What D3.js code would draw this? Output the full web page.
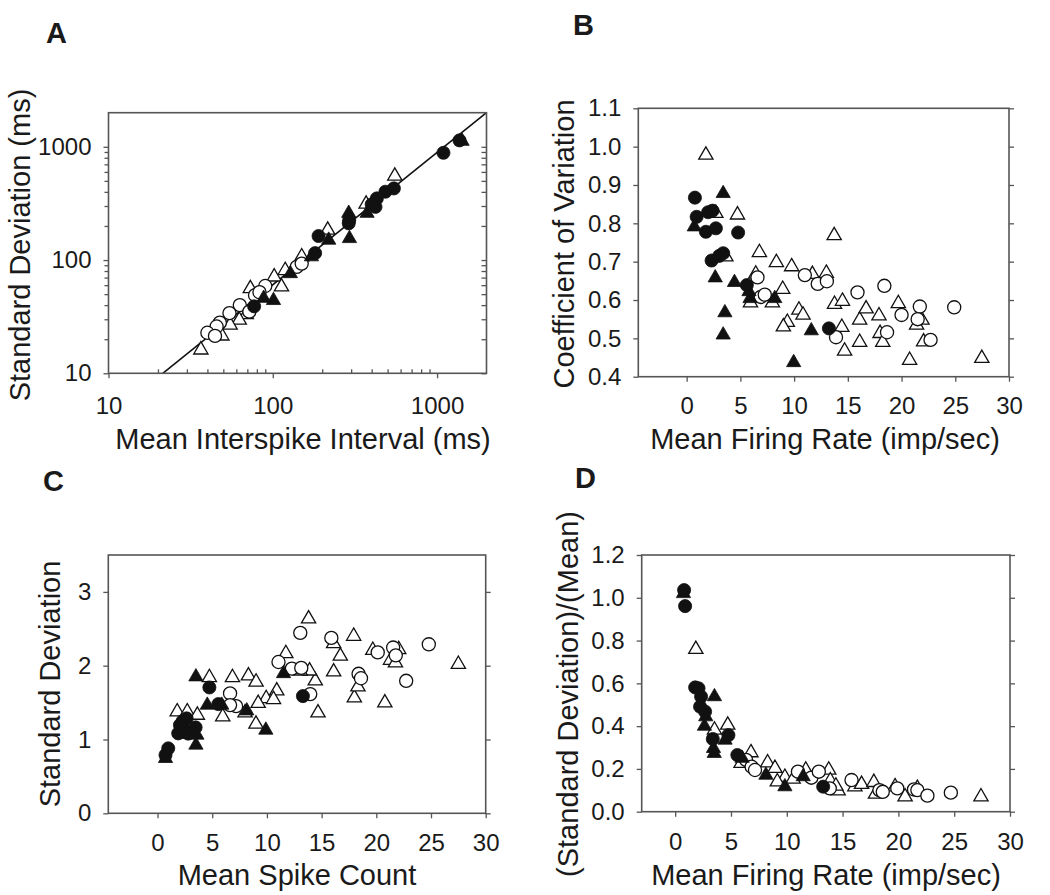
<!DOCTYPE html>
<html>
<head>
<meta charset="utf-8">
<script src="https://cdn.jsdelivr.net/npm/d3@7"></script>
<style>
  body { margin: 0; background: #fff; }
  svg { display: block; }
  text { font-family: "Liberation Sans", Arial, sans-serif; fill: #1a1a1a; }
</style>
</head>
<body>
<script>
// ---- data ----
// A: mean interspike interval (ms) vs standard deviation (ms)
const aFilledCircles = [[1370,1140],[1094,885],[546,429],[485,401],[430,350],[422,295],[400,310],[290,211],[292,225],[190,163],[181,115],[77,39]];
const aFilledTriangles = [[1420,1120],[290,259],[293,155],[219,150],[375,259],[128,76],[101,44],[88,46],[172,107]];
const aOpenTriangles = [[553,551],[370,312],[216,184],[150,107],[119,81],[102,71],[113,58],[73,56],[69,33],[62.5,29.5],[55,26.7],[49,21.4],[36.5,16.1]];
const aOpenCircles = [[140,87],[150,93],[90,59],[78,49],[83,52],[63,40],[54.5,34],[47.6,28],[45.5,25.9],[40,22.8],[44.5,21.4],[72,35]];
const aFit = [[21.4,10],[2000,2000]];
const aMajorTicks = [10,100,1000];
const aMinorTicks = [20,30,40,50,60,70,80,90,200,300,400,500,600,700,800,900];

// B: mean firing rate (imp/sec) vs coefficient of variation
const bFilledCircles = [[0.77,0.867],[0.93,0.817],[1.79,0.778],[2.0,0.829],[2.41,0.833],[2.72,0.787],[2.32,0.703],[3.03,0.715],[3.4,0.722],[4.79,0.776],[5.6,0.639],[13.24,0.526]];
const bFilledTriangles = [[3.4,0.878],[0.71,0.791],[2.66,0.658],[4.45,0.646],[5.9,0.604],[8.2,0.604],[3.56,0.567],[3.4,0.509],[11.6,0.52],[9.96,0.437],[5.8,0.622]];
const bOpenTriangles = [[1.79,0.978],[2.72,0.826],[4.73,0.822],[3.65,0.713],[13.73,0.768],[6.77,0.724],[8.35,0.698],[9.77,0.687],[6.43,0.668],[11.7,0.667],[13.0,0.67],[8.94,0.628],[5.94,0.593],[7.98,0.593],[13.76,0.589],[14.5,0.597],[10.45,0.574],[10.83,0.561],[9.37,0.542],[9.0,0.53],[14.44,0.529],[14.7,0.467],[16.1,0.548],[16.7,0.577],[16.1,0.49],[17.9,0.559],[18.0,0.513],[18.25,0.49],[19.7,0.591],[21.4,0.535],[21.9,0.548],[22.05,0.491],[20.75,0.443],[27.47,0.448]];
const bOpenCircles = [[6.59,0.659],[6.9,0.608],[7.27,0.614],[11.0,0.665],[12.2,0.642],[13.05,0.649],[15.9,0.62],[18.4,0.637],[13.9,0.503],[18.65,0.516],[20.0,0.561],[21.7,0.583],[21.5,0.55],[22.7,0.496],[24.9,0.581]];
const bYTicks = [0.4,0.5,0.6,0.7,0.8,0.9,1.0,1.1];

// C: mean spike count vs standard deviation
const cFilledCircles = [[4.74,1.705],[5.56,1.48],[13.29,1.588],[0.98,0.88],[0.73,0.79],[2.05,1.195],[2.66,1.286],[2.5,1.128],[1.89,1.083],[3.48,1.164],[2.3,1.25],[2.8,1.08]];
const cFilledTriangles = [[3.51,1.85],[4.55,1.466],[5.87,1.466],[8.16,1.389],[9.9,1.128],[11.52,1.894],[3.51,0.925],[0.73,0.744],[3.6,1.06],[2.4,1.07]];
const cOpenTriangles = [[13.81,2.635],[17.93,2.40],[11.73,2.165],[16.1,2.30],[16.71,2.13],[16.1,1.917],[19.68,2.21],[21.3,2.075],[21.75,2.04],[22.05,2.22],[27.5,2.02],[20.78,1.497],[17.99,1.565],[18.32,1.714],[14.67,1.362],[14.42,1.795],[13.9,1.93],[13.05,1.93],[4.74,1.84],[6.85,1.84],[8.31,1.863],[9.01,1.78],[10.9,1.66],[9.93,1.556],[10.6,1.543],[9.2,1.49],[5.96,1.308],[8.0,1.362],[9.0,1.209],[1.8,1.376],[2.72,1.376],[3.64,1.33]];
const cOpenCircles = [[13.05,2.445],[15.89,2.377],[21.54,2.246],[21.78,2.14],[20.13,2.18],[24.8,2.29],[11.06,2.05],[12.28,1.96],[13.14,1.97],[18.38,1.89],[18.6,1.83],[22.73,1.795],[13.96,1.615],[6.63,1.624],[7.18,1.452],[6.63,1.466]];
const cYTicks = [0,1,2,3];

// D: mean firing rate vs (SD)/(mean)
const dFilledCircles = [[0.8,1.036],[0.89,0.961],[1.79,0.581],[2.09,0.577],[2.32,0.538],[2.23,0.491],[2.68,0.468],[3.37,0.34],[4.77,0.358],[5.57,0.265],[13.26,0.117]];
const dFilledTriangles = [[0.74,1.02],[3.52,0.538],[2.74,0.444],[2.62,0.40],[3.43,0.296],[3.5,0.273],[4.47,0.335],[8.13,0.171],[9.83,0.117],[11.47,0.164],[6.0,0.25]];
const dOpenTriangles = [[1.85,0.759],[3.52,0.382],[4.71,0.405],[6.79,0.276],[5.9,0.226],[8.28,0.229],[8.94,0.203],[9.83,0.161],[9.15,0.14],[10.57,0.153],[11.7,0.195],[13.76,0.195],[13.9,0.145],[14.6,0.098],[14.4,0.12],[16.1,0.117],[16.7,0.128],[17.8,0.137],[17.95,0.083],[20.6,0.07],[27.4,0.07],[19.7,0.117],[21.7,0.109]];
const dOpenCircles = [[6.35,0.242],[6.85,0.21],[7.15,0.195],[11.0,0.187],[12.2,0.159],[12.87,0.187],[13.85,0.109],[15.8,0.148],[18.3,0.101],[19.9,0.109],[21.4,0.104],[21.7,0.101],[22.6,0.075],[24.7,0.089],[18.6,0.093]];
const dYTicks = [0,0.2,0.4,0.6,0.8,1.0,1.2];

const rateTicks = [0,5,10,15,20,25,30];

// ---- drawing ----
const svg = d3.select("body").append("svg")
	.attr("width", 1050)
	.attr("height", 895);

const frameColor = "#555";
const ink = "#111";

const circlePath = d3.symbol().type(d3.symbolCircle).size(135)();
const trianglePath = d3.symbol().type(d3.symbolTriangle).size(88)();

function styleAxis(g) {
	g.select(".domain").remove();
	g.selectAll("line").attr("stroke", frameColor).attr("stroke-width", 1.3);
	g.selectAll("text")
		.attr("font-family", "Liberation Sans, Arial, sans-serif")
		.attr("font-size", 24)
		.attr("fill", "#1a1a1a");
}

function drawPanel(p) {
	const g = svg.append("g");
	const x = p.x, y = p.y;
	const [left, right] = x.range();
	const [bottom, top] = y.range();

	// markers: open first, filled on top
	const series = [
		{ data: p.openTriangles, path: trianglePath, filled: false },
		{ data: p.openCircles, path: circlePath, filled: false },
		{ data: p.filledTriangles, path: trianglePath, filled: true },
		{ data: p.filledCircles, path: circlePath, filled: true }
	];

	if (p.fit) {
		const line = d3.line().x((d) => x(d[0])).y((d) => y(d[1]));
		g.append("path")
			.datum(p.fit)
			.attr("d", line)
			.attr("fill", "none")
			.attr("stroke", ink)
			.attr("stroke-width", 1.6);
	}

	series.forEach((s) => {
		g.append("g")
			.selectAll("path")
			.data(s.data)
			.join("path")
				.attr("d", s.path)
				.attr("transform", (d) => `translate(${x(d[0])},${y(d[1])})`)
				.attr("fill", s.filled ? ink : "#fff")
				.attr("stroke", ink)
				.attr("stroke-width", s.filled ? 0.8 : 1.3);
	});

	// frame
	g.append("rect")
		.attr("x", left)
		.attr("y", top)
		.attr("width", right - left)
		.attr("height", bottom - top)
		.attr("fill", "none")
		.attr("stroke", frameColor)
		.attr("stroke-width", 1.6);

	// axes
	g.append("g")
		.attr("transform", `translate(0,${bottom})`)
		.call(d3.axisBottom(x).tickValues(p.xTicks).tickFormat(p.xFormat).tickSize(5).tickPadding(p.xPad))
		.call(styleAxis);

	g.append("g")
		.attr("transform", `translate(${left},0)`)
		.call(d3.axisLeft(y).tickValues(p.yTicks).tickFormat(p.yFormat).tickSize(5).tickPadding(12))
		.call(styleAxis);

	g.append("g")
		.attr("transform", `translate(${right},0)`)
		.call(d3.axisRight(y).tickValues(p.yTicks.concat(p.yMinor || [])).tickFormat("").tickSize(p.rightTick))
		.call(styleAxis);

	if (p.xMinor) {
		g.append("g")
			.attr("transform", `translate(0,${bottom})`)
			.call(d3.axisBottom(x).tickValues(p.xMinor).tickFormat("").tickSize(-4))
			.call(styleAxis);
	}
	if (p.yMinor) {
		g.append("g")
			.attr("transform", `translate(${left},0)`)
			.call(d3.axisLeft(y).tickValues(p.yMinor).tickFormat("").tickSize(4))
			.call(styleAxis);
	}

	// titles
	g.append("text")
		.attr("x", p.xTitlePos[0])
		.attr("y", p.xTitlePos[1])
		.attr("text-anchor", "middle")
		.attr("font-size", 29)
		.text(p.xTitle);

	g.append("text")
		.attr("transform", `translate(${p.yTitlePos[0]},${p.yTitlePos[1]}) rotate(-90)`)
		.attr("text-anchor", "middle")
		.attr("font-size", 29)
		.text(p.yTitle);

	g.append("text")
		.attr("x", p.letterPos[0])
		.attr("y", p.letterPos[1])
		.attr("font-size", 29)
		.attr("font-weight", "bold")
		.attr("fill", "#000")
		.text(p.letter);
}

// A
drawPanel({
	letter: "A", letterPos: [46, 43],
	x: d3.scaleLog().domain([10, 2000]).range([108.5, 486.5]),
	y: d3.scaleLog().domain([10, 2000]).range([373.3, 112.7]),
	xTicks: aMajorTicks, xMinor: aMinorTicks, xFormat: d3.format("d"), xPad: 19,
	yTicks: aMajorTicks, yMinor: aMinorTicks, yFormat: d3.format("d"),
	rightTick: -5,
	filledCircles: aFilledCircles, filledTriangles: aFilledTriangles,
	openTriangles: aOpenTriangles, openCircles: aOpenCircles,
	fit: aFit,
	xTitle: "Mean Interspike Interval (ms)", xTitlePos: [303, 449],
	yTitle: "Standard Deviation (ms)", yTitlePos: [30, 245]
});

// B
drawPanel({
	letter: "B", letterPos: [573, 35],
	x: d3.scaleLinear().domain([-4.5, 30]).range([638.3, 1009]),
	y: d3.scaleLinear().domain([0.4, 1.1]).range([376.7, 108.3]),
	xTicks: rateTicks, xFormat: d3.format("d"), xPad: 15,
	yTicks: bYTicks, yFormat: d3.format(".1f"),
	rightTick: 5,
	filledCircles: bFilledCircles, filledTriangles: bFilledTriangles,
	openTriangles: bOpenTriangles, openCircles: bOpenCircles,
	xTitle: "Mean Firing Rate (imp/sec)", xTitlePos: [825, 449],
	yTitle: "Coefficient of Variation", yTitlePos: [574, 244]
});

// C
drawPanel({
	letter: "C", letterPos: [43, 491],
	x: d3.scaleLinear().domain([-4.5, 30]).range([108.3, 485.7]),
	y: d3.scaleLinear().domain([0, 3.5]).range([813.3, 555]),
	xTicks: rateTicks, xFormat: d3.format("d"), xPad: 16,
	yTicks: cYTicks, yFormat: d3.format("d"),
	rightTick: 5,
	filledCircles: cFilledCircles, filledTriangles: cFilledTriangles,
	openTriangles: cOpenTriangles, openCircles: cOpenCircles,
	xTitle: "Mean Spike Count", xTitlePos: [297, 885],
	yTitle: "Standard Deviation", yTitlePos: [60, 684]
});

// D
drawPanel({
	letter: "D", letterPos: [575, 488],
	x: d3.scaleLinear().domain([-3, 30]).range([641.7, 1010]),
	y: d3.scaleLinear().domain([0, 1.2]).range([811.7, 555]),
	xTicks: rateTicks, xFormat: d3.format("d"), xPad: 16,
	yTicks: dYTicks, yFormat: d3.format(".1f"),
	rightTick: 5,
	filledCircles: dFilledCircles, filledTriangles: dFilledTriangles,
	openTriangles: dOpenTriangles, openCircles: dOpenCircles,
	xTitle: "Mean Firing Rate (imp/sec)", xTitlePos: [826, 885],
	yTitle: "(Standard Deviation)/(Mean)", yTitlePos: [578, 694]
});
</script>
</body>
</html>
